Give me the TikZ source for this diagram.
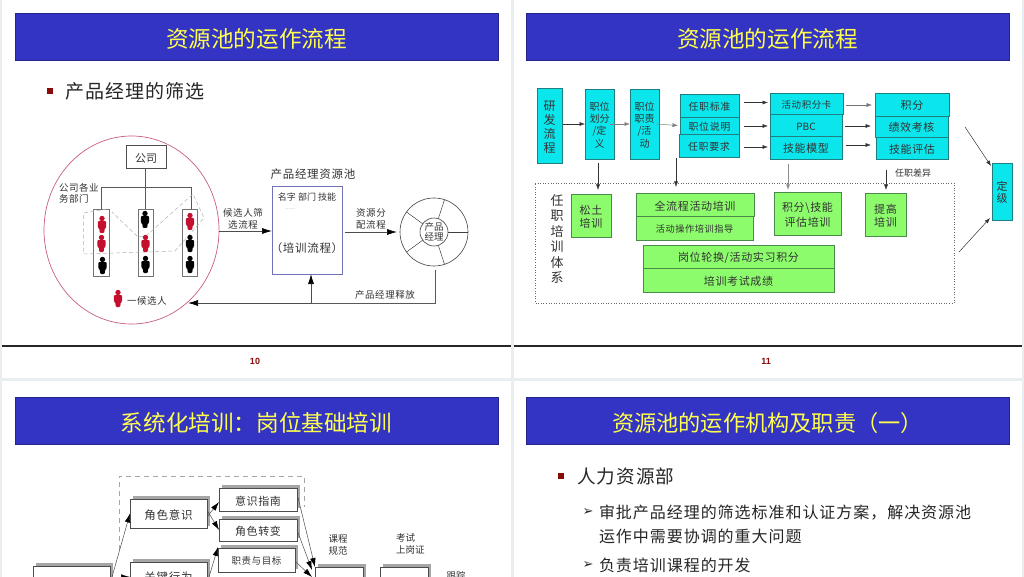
\documentclass[tikz,border=0pt]{standalone}
\usepackage{fontspec}
\setmainfont{Noto Sans CJK SC}
\newfontfamily\spfont[LetterSpace=6]{Noto Sans CJK SC}
\newfontfamily\latinfont{Liberation Sans}
\newfontfamily\arrowfont{DejaVu Sans}
\usetikzlibrary{arrows.meta,shapes.geometric}
\definecolor{gap}{HTML}{E9EEF1}
\definecolor{barblue}{HTML}{3333C4}
\definecolor{titley}{HTML}{FFFF4D}
\definecolor{dred}{HTML}{8A0A0A}
\definecolor{cybox}{HTML}{0AE6EC}
\definecolor{cyline}{HTML}{1F7F80}
\definecolor{grbox}{HTML}{8CFB6C}
\definecolor{grline}{HTML}{4A8A4A}
\definecolor{txt}{HTML}{333333}
\definecolor{pink}{HTML}{C8607A}
\definecolor{pred}{HTML}{C4102E}
\definecolor{pool}{HTML}{6F73B5}
\newcommand{\fsz}[1]{\fontsize{#1}{#1}\selectfont}
\newcommand{\rbox}[7][]{%
  \pgfmathsetmacro\bw{#5-#3}\pgfmathsetmacro\bh{#6-#4}%
  \pgfmathsetmacro\cx{(#3+#5)/2}\pgfmathsetmacro\cy{(#4+#6)/2}%
  \node[#1,minimum width=\bw pt,minimum height=\bh pt] (#2) at (\cx,\cy) {\rule{0pt}{1.08em}#7};}
\newcommand{\person}[3]{\begin{scope}[shift={(#1,#2)}]
  \fill[#3] (0,-6.5) circle (2.7);
  \fill[#3,rounded corners=1] (-4.2,-4) -- (4.2,-4) -- (4.2,3) -- (2.8,3) -- (2.2,8) -- (-2.2,8) -- (-2.8,3) -- (-4.2,3) -- cycle;
  \end{scope}}
\tikzset{
  x=1pt,y=-1pt,
  every node/.style={inner sep=0pt,outer sep=0pt,align=center,text=txt},
  titlebar/.style={fill=barblue,draw=barblue!70!black,line width=.5pt},
  titletext/.style={text=titley,font=\fsz{22.6}},
  pagenum/.style={text=dred,font=\latinfont\bfseries\fsz{9}},
  footline/.style={line width=2pt,draw=black!85},
  bulletsq/.style={fill=dred,minimum size=6pt},
  small/.style={font=\spfont\fsz{9.5}},
  cyanbox/.style={draw=cyline,fill=cybox,line width=.7pt,font=\spfont\fsz{10}},
  greenbox/.style={draw=grline,fill=grbox,line width=.7pt,font=\spfont\fsz{10.5}},
  thinarrow/.style={draw=black!80,line width=.5pt,-{Latex[length=5.5pt,width=4pt]}},
  bigarrow/.style={draw=black!70,line width=.7pt,-{Latex[length=10pt,width=6pt,color=black]}},
  plainline/.style={draw=black!65,line width=.7pt},
  col/.style={draw=black!55,line width=.8pt},
  shadowbox/.style={draw=black!70,fill=white,line width=.7pt,font=\spfont\fsz{11.5}},
  shadowrect/.style={fill=black!35},
  graydash/.style={draw=black!35,line width=.6pt,dashed,dash pattern=on 5pt off 4pt},
  skew/.style={draw=black!70,line width=.5pt,-{Latex[length=9pt,width=5.5pt,color=black]}},
}
\begin{document}
\begin{tikzpicture}
\useasboundingbox (0,0) rectangle (1024,577);
\clip (0,0) rectangle (1024,577);
\fill[white] (0,0) rectangle (1024,577);
% slide gaps
\fill[gap] (0,0) rectangle (2,577);
\fill[gap] (511,0) rectangle (513.5,577);
\fill[gap] (1021.5,0) rectangle (1024,577);
\fill[gap] (0,377.5) rectangle (1024,380.5);
% title bars
\rbox[titlebar,titletext]{t1}{15}{13}{498}{60}{资源池的运作流程}
\rbox[titlebar,titletext]{t2}{526}{13}{1009}{60}{资源池的运作流程}
\rbox[titlebar,titletext]{t3}{15}{397}{498}{444}{系统化培训：岗位基础培训}
\rbox[titlebar,titletext,font=\fsz{22.2}]{t4}{526}{397}{1009}{444}{资源池的运作机构及职责（一）}
% footers
\coordinate (fa) at (2,345.5); \coordinate (fb) at (511,345.5);
\coordinate (fc) at (513.5,345.5); \coordinate (fd) at (1021.5,345.5);
\draw[footline] (fa) -- (fb);
\draw[footline] (fc) -- (fd);
\node[pagenum] (p10) at (255,361) {10};
\node[pagenum] (p11) at (766,361) {11};

% ---------- slide 1
\node[bulletsq] (b1) at (50,91) {};
\node[anchor=west,font=\spfont\fsz{19},text=black!85] (h1) at (65,91) {产品经理的筛选};
\node[draw=pink,line width=.7pt,ellipse,minimum width=175pt,minimum height=188pt] (circ) at (131.5,230) {};
\rbox[draw=black!70,line width=.6pt,font=\fsz{11}]{co}{126}{145}{166}{168}{公司}
\coordinate (tj) at (145,187);
\coordinate (tl) at (101,187);
\coordinate (tr) at (191,187);
\rbox[col]{c1}{93.5}{209.5}{109}{276}{}
\rbox[col]{c2}{138}{209.5}{153}{276}{}
\rbox[col]{c3}{182}{209.5}{197}{276}{}
\draw[plainline] (tl) -- (tr);
\draw[plainline] (co.south -| tj) -- (tj);
\draw[plainline] (tj) -- (tj |- c2.north);
\draw[plainline] (tl) -- (tl |- c1.north);
\draw[plainline] (tr) -- (tr |- c3.north);
\draw[draw=black!30,line width=.5pt,dashed,dash pattern=on 4pt off 2.5pt] (107,209) -- (83.5,213) -- (83.5,254) -- (175,251) -- (204,218) -- (193,194) -- (146,236) -- (138,237) -- (112,212);
\person{102}{225}{pred}\person{101.5}{244}{pred}\person{102.5}{266}{black}
\person{145}{220}{black}\person{145.5}{244}{pred}\person{145.5}{265}{black}
\person{190}{222}{pred}\person{190}{244}{black}\person{190}{265}{black}
\person{118}{299}{pred}
\node[small,anchor=west,align=left] (gm) at (59,193) {公司各业\\[1.5pt]务部门};
\node[small,anchor=west,font=\spfont\fsz{9.5}] (leg) at (127,301) {一候选人};
\rbox[draw=pool,fill=white,line width=.8pt]{rp}{272}{186}{342.5}{274}{}
\node[font=\spfont\fsz{11.5}] (rpl) at (313,174) {产品经理资源池};
\node[small,font=\fsz{9}] (rph) at (307,197) {名字 部门 技能};
\node[font=\fsz{6},text=black!35] (rpd) at (290,209) {......};
\node[font=\spfont\fsz{11.5}] (rpt) at (307,248) {（培训流程）};
\node[small] (sel) at (243,219) {候选人筛\\[2pt]选流程};
\coordinate (sels) at (219,231);
\draw[bigarrow] (sels) -- (rp.west |- sels);
\node[draw=black!75,line width=.6pt,circle,minimum size=68pt] (wh) at (434,232) {};
\node[draw=black!75,line width=.6pt,circle,minimum size=28pt,font=\fsz{9.5},align=center] (hub) at (434,232) {产品\\经理};
\foreach \a in {0,72,144,216,288}{\draw[black!75,line width=.5pt] (hub.\a) -- (wh.\a);}
\node[small] (dist) at (371,219) {资源分\\[2pt]配流程};
\draw[bigarrow] ([xshift=2pt]rp.east |- wh.west) -- ([xshift=-3pt]wh.west);
\coordinate (rel1) at (435,270);
\coordinate (rel2) at (435,303);
\coordinate (rel3) at (311,303);
\coordinate (rel4) at (188,303);
\draw[plainline] (rel1) -- (rel2) -- (rel3);
\draw[bigarrow] (rel3) -- (rel4);
\draw[bigarrow] (rel3) -- (rel3 |- rp.south);
\node[small] (rell) at (385,295) {产品经理释放};

% ---------- slide 2
\rbox[cyanbox,font=\fsz{12}]{yf}{537}{88}{562}{163}{研\\[2pt]发\\[2pt]流\\[2pt]程}
\rbox[cyanbox,font=\fsz{10}]{zw}{585}{89}{614}{159}{职位\\[1.7pt]划分\\[1.7pt]/定\\[1.7pt]义}
\rbox[cyanbox,font=\fsz{10}]{zz}{630}{89}{659}{159}{职位\\[1.7pt]职责\\[1.7pt]/活\\[1.7pt]动}
\rbox[cyanbox]{r1}{680}{94}{739}{117}{任职标准}
\rbox[cyanbox]{r2}{680}{117}{739}{134}{职位说明}
\rbox[cyanbox]{r3}{679}{134}{739}{157}{任职要求}
\rbox[cyanbox,font=\spfont\fsz{9.5}]{m1}{770}{93}{843}{114}{活动积分卡}
\rbox[cyanbox,font=\fsz{10}]{m2}{770}{114}{842}{136}{PBC}
\rbox[cyanbox,font=\spfont\fsz{11}]{m3}{770}{136}{842}{159}{技能模型}
\rbox[cyanbox,font=\spfont\fsz{11}]{s1}{875}{93}{949}{116}{积分}
\rbox[cyanbox,font=\spfont\fsz{11}]{s2}{875}{116}{948}{137}{绩效考核}
\rbox[cyanbox,font=\spfont\fsz{11}]{s3}{876}{137}{948}{159}{技能评估}
\rbox[cyanbox,font=\fsz{11}]{dj}{992}{163}{1012}{220}{定\\[1pt]级}
\draw[thinarrow] ([xshift=1pt]yf.east |- zw) -- (zw.west);
\draw[thinarrow,draw=black!50] ([xshift=-4pt]zw.east) -- (zz.west);
\draw[thinarrow,draw=black!50] ([xshift=-3pt]zz.east) -- ([xshift=-2pt]r2.west);
\coordinate (a1) at (744,102.5); \coordinate (a2) at (744,126); \coordinate (a3) at (744,147);
\draw[thinarrow] (a1) -- ([xshift=-2pt]m1.west |- a1);
\draw[thinarrow] (a2) -- ([xshift=-2pt]m1.west |- a2);
\draw[thinarrow] (a3) -- ([xshift=-2pt]m1.west |- a3);
\coordinate (b1c) at (846,105); \coordinate (b2c) at (845,126); \coordinate (b3c) at (846,145);
\draw[thinarrow,draw=black!55] (b1c) -- ([xshift=-3pt]s1.west |- b1c);
\draw[thinarrow] (b2c) -- ([xshift=-4pt]s1.west |- b2c);
\draw[thinarrow] (b3c) -- ([xshift=-4pt]s1.west |- b3c);
\draw[draw=black!60,line width=.6pt,dotted] (535,183) -- (954,183) -- (954,303) -- (535,303) -- cycle;
\coordinate (d1) at (598,190); \coordinate (d2) at (676,187); \coordinate (d3) at (788,190); \coordinate (d4) at (886,190);
\coordinate (d1s) at (598,163); \coordinate (d2s) at (676,158); \coordinate (d3s) at (788,164); \coordinate (d4s) at (886,170);
\draw[thinarrow] (d1s) -- (d1);
\draw[thinarrow] (d2s) -- (d2);
\draw[thinarrow,draw=black!45,line width=.8pt] (d3s) -- (d3);
\draw[thinarrow] (d4s) -- (d4);
\node[small,font=\fsz{9}] (diff) at (913,173) {任职差异};
\rbox[greenbox,font=\spfont\fsz{11}]{g1}{571}{194}{611}{237}{松土\\[2pt]培训}
\rbox[greenbox,font=\spfont\fsz{11}]{g2}{636}{193}{754}{216}{全流程活动培训}
\rbox[greenbox,font=\spfont\fsz{9.2}]{g3}{636}{216}{753}{240}{活动操作培训指导}
\rbox[greenbox,font=\spfont\fsz{11}]{g4}{643}{245}{834}{268}{岗位轮换/活动实习积分}
\rbox[greenbox,font=\spfont\fsz{11}]{g5}{643}{268}{834}{292}{培训考试成绩}
\rbox[greenbox,font=\spfont\fsz{11}]{g6}{774}{192}{841}{235}{积分\textbackslash 技能\\[2pt]评估培训}
\rbox[greenbox,font=\spfont\fsz{11}]{g7}{865}{193}{906}{236}{提高\\[2pt]培训}
\node[font=\fsz{13},text=black!80] (rz) at (557,239) {任\\[2.5pt]职\\[2.5pt]培\\[2.5pt]训\\[2.5pt]体\\[2.5pt]系};
\coordinate (up) at (965,127); \coordinate (lo) at (959,252);
\draw[thinarrow] (up) -- ([xshift=-1pt,yshift=-3pt]dj.north west);
\draw[thinarrow] (lo) -- ([xshift=-2pt,yshift=2pt]dj.south west);

% ---------- slide 3
\coordinate (q1) at (119,550); \coordinate (q2) at (119,476); \coordinate (q3) at (304,476); \coordinate (q4) at (304,507);
\draw[graydash] (q1) -- (q2) -- (q3) -- (q4);
\fill[shadowrect] (133,496) rectangle (210,526);
\fill[shadowrect] (222,485) rectangle (300,508);
\fill[shadowrect] (222,516) rectangle (300,538);
\fill[shadowrect] (221,545) rectangle (298,569);
\fill[shadowrect] (133,559) rectangle (210,590);
\fill[shadowrect] (36,563) rectangle (113,590);
\fill[shadowrect] (318,564) rectangle (366,590);
\fill[shadowrect] (383,564) rectangle (431,590);
\rbox[shadowbox]{j1}{130}{499}{207}{528}{角色意识}
\rbox[shadowbox,font=\spfont\fsz{11}]{j2}{219}{488}{297}{511}{意识指南}
\rbox[shadowbox,font=\spfont\fsz{11}]{j3}{219}{519}{297}{541}{角色转变}
\rbox[shadowbox,font=\spfont\fsz{9.5}]{j4}{218}{548}{295}{572}{职责与目标}
\rbox[shadowbox]{j5}{130}{562}{207}{589}{关键行为}
\rbox[shadowbox]{j6}{33}{566}{110}{592}{}
\rbox[shadowbox]{j7}{315}{567}{363}{592}{}
\rbox[shadowbox]{j8}{380}{567}{428}{592}{}
\node[small,font=\fsz{9.5}] (kc) at (338,545) {课程\\[2.5pt]规范};
\node[small,font=\fsz{9.5},anchor=north west,align=left] (ks) at (396,533.5) {考试\\[2.5pt]上岗证};
\node[small,font=\fsz{9.5}] (gz) at (456,576) {跟踪};
\coordinate (sk1) at (112,577); \coordinate (sk2) at (209,577); \coordinate (sk3) at (315,567);
\coordinate (sk4) at (312,570); \coordinate (sk5) at (312,577);
\draw[skew] (sk1) -- (j1.west);
\draw[skew] (sk1) -- (j5.west |- sk1);
\draw[skew] ([yshift=-3.5pt]j1.east) -- ([yshift=-2.5pt]j2.west);
\draw[skew] ([yshift=3.5pt]j1.east) -- (j3.west);
\draw[skew] (sk2) -- ([yshift=1pt]j4.north west);
\draw[skew] ([xshift=1pt,yshift=2pt]j2.east) -- (sk3);
\draw[skew] (j3.east) -- (sk4);
\draw[skew] ([xshift=1pt,yshift=-2pt]j4.east) -- (sk5);
\coordinate (tr1) at (430,577); \coordinate (tr2) at (436,577);
\draw[draw=black!40,line width=.5pt] (tr1) -- (tr2);

% ---------- slide 4
\node[bulletsq] (b4) at (561,476) {};
\node[anchor=west,font=\spfont\fsz{18.6},text=black!85] (h4) at (577,476.5) {人力资源部};
\node[font=\arrowfont\fsz{13},text=black!85] (a41) at (588,512) {➢};
\node[anchor=west,font=\spfont\fsz{16},text=black!85] (l1) at (599,512.5) {审批产品经理的筛选标准和认证方案，解决资源池};
\node[anchor=west,font=\spfont\fsz{16},text=black!85] (l2) at (599,536.5) {运作中需要协调的重大问题};
\node[font=\arrowfont\fsz{13},text=black!85] (a42) at (588,565) {➢};
\node[anchor=west,font=\spfont\fsz{16},text=black!85] (l3) at (599,565.5) {负责培训课程的开发};
\end{tikzpicture}
\end{document}
